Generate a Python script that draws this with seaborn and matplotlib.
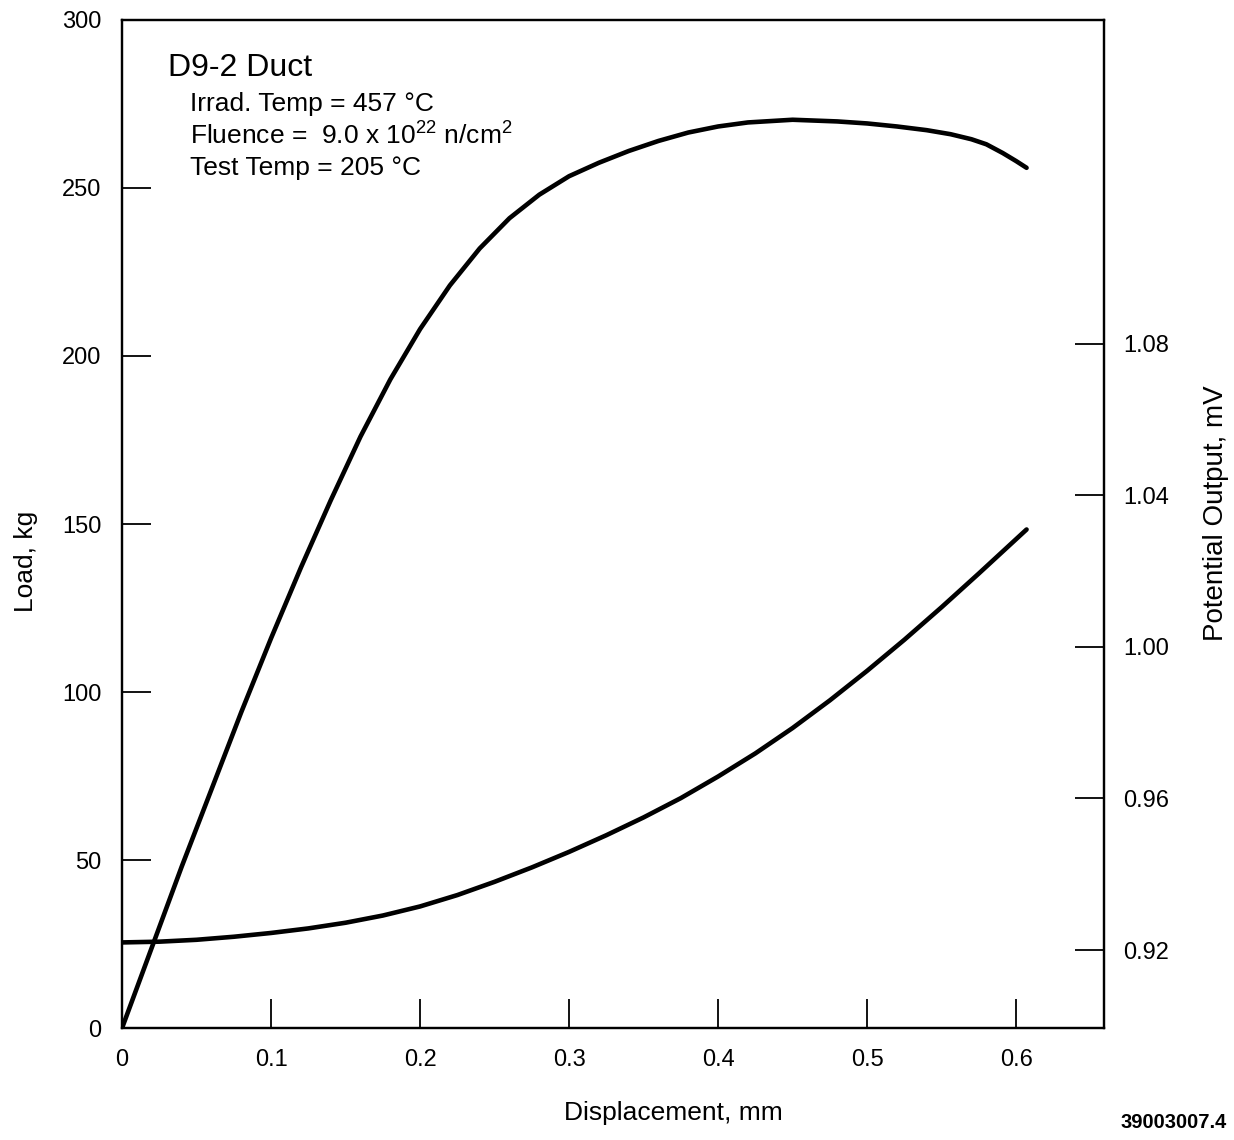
import matplotlib
matplotlib.use("Agg")
import matplotlib.pyplot as plt
import seaborn as sns
import pandas as pd

# ---- data ----
disp_load = [0, 0.02, 0.04, 0.06, 0.08, 0.10, 0.12, 0.14, 0.16, 0.18, 0.20, 0.22,
             0.24, 0.26, 0.28, 0.30, 0.32, 0.34, 0.36, 0.38, 0.40, 0.42, 0.45,
             0.48, 0.50, 0.52, 0.54, 0.556, 0.57, 0.58, 0.591, 0.600, 0.607]
load_kg = [0, 24, 48, 71, 94, 116, 137, 157, 176, 193, 208, 221,
           232, 241, 248, 253.5, 257.5, 261, 264, 266.5, 268.3, 269.5, 270.3,
           269.8, 269.2, 268.3, 267.2, 266, 264.5, 263, 260.4, 258, 256]

disp_pot = [0, 0.025, 0.05, 0.075, 0.10, 0.125, 0.15, 0.175, 0.20, 0.225, 0.25,
            0.275, 0.30, 0.325, 0.35, 0.375, 0.40, 0.425, 0.45, 0.475, 0.50,
            0.525, 0.55, 0.575, 0.607]
potential_mv = [0.922, 0.9222, 0.9227, 0.9235, 0.9245, 0.9257, 0.9272, 0.9291,
                0.9315, 0.9345, 0.9380, 0.9418, 0.9459, 0.9503, 0.9550, 0.9601,
                0.9658, 0.9719, 0.9786, 0.9859, 0.9937, 1.0019, 1.0105, 1.0194,
                1.0310]

x_ticks = [0, 0.1, 0.2, 0.3, 0.4, 0.5, 0.6]
x_tick_labels = ["0", "0.1", "0.2", "0.3", "0.4", "0.5", "0.6"]
load_ticks = [0, 50, 100, 150, 200, 250, 300]
pot_ticks = [0.92, 0.96, 1.00, 1.04, 1.08]
pot_tick_labels = ["0.92", "0.96", "1.00", "1.04", "1.08"]

title = "D9-2 Duct"
info_lines = ["Irrad. Temp = 457 °C",
              "Fluence =  9.0 x 10$^{22}$ n/cm$^2$",
              "Test Temp = 205 °C"]

# ---- style ----
sns.set_style("ticks")
plt.rcParams["font.family"] = ["Liberation Sans", "DejaVu Sans"]
plt.rcParams["mathtext.fontset"] = "custom"
plt.rcParams["mathtext.rm"] = "Liberation Sans"
plt.rcParams["mathtext.it"] = "Liberation Sans"
plt.rcParams["mathtext.bf"] = "Liberation Sans:bold"
for k in ("text.color", "axes.labelcolor", "xtick.color", "ytick.color",
          "axes.edgecolor"):
    plt.rcParams[k] = "black"

df_load = pd.DataFrame({"disp": disp_load, "load": load_kg})
df_pot = pd.DataFrame({"disp": disp_pot, "pot": potential_mv})

fig = plt.figure(figsize=(12.34, 11.40), dpi=100)
ax = fig.add_axes([0.0989, 0.0982, 0.7958, 0.8843])
ax2 = ax.twinx()

sns.lineplot(data=df_load, x="disp", y="load", ax=ax, color="black", lw=3.3,
             sort=False, estimator=None)
sns.lineplot(data=df_pot, x="disp", y="pot", ax=ax2, color="black", lw=3.3,
             sort=False, estimator=None)

ax.set_xlim(0, 0.659)
ax.set_ylim(0, 300)
ax2.set_ylim(0.8994, 1.1655)

ax.set_xticks(x_ticks)
ax.set_xticklabels(x_tick_labels)
ax.set_yticks(load_ticks)
ax2.set_yticks(pot_ticks)
ax2.set_yticklabels(pot_tick_labels)

tick_kw = dict(direction="in", length=21, width=1.3, color="black",
               labelcolor="black", labelsize=17)
ax.tick_params(axis="x", pad=15, **tick_kw)
ax.tick_params(axis="y", pad=15, **tick_kw)
ax2.tick_params(axis="y", pad=14, **tick_kw)

for a in (ax, ax2):
    for s in a.spines.values():
        s.set_visible(True)
        s.set_linewidth(1.6)
        s.set_color("black")

ax.set_xlabel("Displacement, mm", fontsize=19, color="black")
ax.xaxis.set_label_coords(0.561, -0.072)
ax.set_ylabel("Load, kg", fontsize=19, color="black")
ax.yaxis.set_label_coords(-0.086, 0.463)
ax2.set_ylabel("Potential Output, mV", fontsize=20, color="black")
ax2.yaxis.set_label_coords(1.101, 0.511)

ax.text(0.047, 0.952, title, transform=ax.transAxes, fontsize=23,
        ha="left", va="center", color="black")
for i, line in enumerate(info_lines):
    ax.text(0.069, 0.917 - i * 0.032, line, transform=ax.transAxes,
            fontsize=19, ha="left", va="center", color="black")

fig.text(0.994, 0.007, "39003007.4", fontsize=14.5, fontweight="bold",
         ha="right", va="bottom", color="black")

fig.savefig("out.png", dpi=100)
